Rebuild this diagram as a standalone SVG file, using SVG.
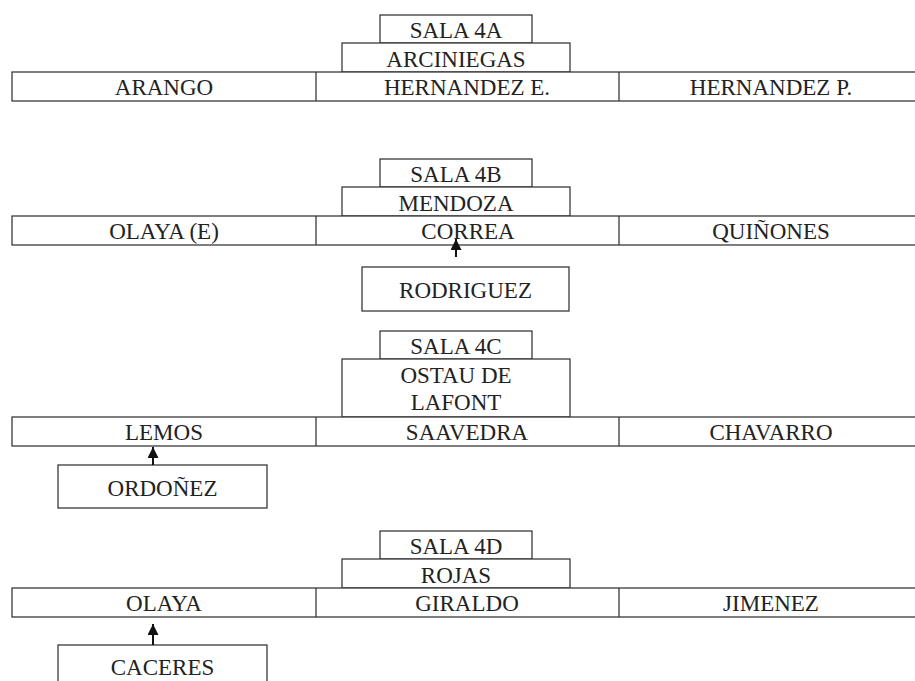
<svg xmlns="http://www.w3.org/2000/svg" width="915" height="681" viewBox="0 0 915 681">
<style>
.box{fill:#fff;stroke:#3a3a3a;stroke-width:1.3}
.bg{fill:#fff;stroke:none}
.div{stroke:#3a3a3a;stroke-width:1.3}
text{font-family:"Liberation Serif","Times New Roman","DejaVu Serif",serif;font-size:23px;fill:#222;text-anchor:middle}
.c line{stroke:#111;stroke-width:2}
</style>
<defs>
<marker id="ah" viewBox="0 0 10 10" refX="10" refY="5" markerWidth="5.5" markerHeight="5.5" orient="auto" markerUnits="strokeWidth">
<path d="M0,0 L10,5 L0,10 z" fill="#111"/>
</marker>
</defs>
<rect class="bg" width="915" height="681"/>

<!-- Sala 4A -->
<g id="sala4a"><rect class="box" x="380" y="15" width="152" height="28"/><text x="456" y="38">SALA 4A</text></g>
<g id="arciniegas"><rect class="box" x="342" y="43" width="228" height="29"/><text x="456" y="67">ARCINIEGAS</text></g>
<g id="row4a"><rect class="box" x="12" y="72" width="913" height="29"/><line class="div" x1="316" y1="72" x2="316" y2="101"/><line class="div" x1="619" y1="72" x2="619" y2="101"/></g>
<g id="arango"><text x="164" y="95">ARANGO</text></g>
<g id="hernandez-e"><text x="467" y="95">HERNANDEZ E.</text></g>
<g id="hernandez-p"><text x="771" y="95">HERNANDEZ P.</text></g>

<!-- Sala 4B -->
<g id="sala4b"><rect class="box" x="380" y="159" width="152" height="28"/><text x="456" y="182">SALA 4B</text></g>
<g id="mendoza"><rect class="box" x="342" y="187" width="228" height="29"/><text x="456" y="211">MENDOZA</text></g>
<g id="row4b"><rect class="box" x="12" y="216" width="913" height="29"/><line class="div" x1="316" y1="216" x2="316" y2="245"/><line class="div" x1="619" y1="216" x2="619" y2="245"/></g>
<g id="olaya-e"><text x="164" y="239">OLAYA (E)</text></g>
<g id="correa"><text x="468" y="239">CORREA</text></g>
<g id="quinones"><text x="771" y="239">QUIÑONES</text></g>
<g id="rodriguez"><rect class="box" x="362" y="267" width="207" height="44"/><text x="465.5" y="298">RODRIGUEZ</text></g>

<!-- Sala 4C -->
<g id="sala4c"><rect class="box" x="380" y="331" width="152" height="28"/><text x="456" y="354">SALA 4C</text></g>
<g id="ostau"><rect class="box" x="342" y="359" width="228" height="58"/><text x="456" y="383">OSTAU DE</text><text x="456" y="410">LAFONT</text></g>
<g id="row4c"><rect class="box" x="12" y="417" width="913" height="29"/><line class="div" x1="316" y1="417" x2="316" y2="446"/><line class="div" x1="619" y1="417" x2="619" y2="446"/></g>
<g id="lemos"><text x="164" y="440">LEMOS</text></g>
<g id="saavedra"><text x="467" y="440">SAAVEDRA</text></g>
<g id="chavarro"><text x="771" y="440">CHAVARRO</text></g>
<g id="ordonez"><rect class="box" x="58" y="465" width="209" height="43"/><text x="162.5" y="496">ORDOÑEZ</text></g>

<!-- Sala 4D -->
<g id="sala4d"><rect class="box" x="380" y="531" width="152" height="28"/><text x="456" y="554">SALA 4D</text></g>
<g id="rojas"><rect class="box" x="342" y="559" width="228" height="29"/><text x="456" y="583">ROJAS</text></g>
<g id="row4d"><rect class="box" x="12" y="588" width="913" height="29"/><line class="div" x1="316" y1="588" x2="316" y2="617"/><line class="div" x1="619" y1="588" x2="619" y2="617"/></g>
<g id="olaya"><text x="164" y="611">OLAYA</text></g>
<g id="giraldo"><text x="467" y="611">GIRALDO</text></g>
<g id="jimenez"><text x="771" y="611">JIMENEZ</text></g>
<g id="caceres"><rect class="box" x="58" y="645" width="209" height="50"/><text x="162.5" y="675">CACERES</text></g>

<g id="connectors" class="c">
<line x1="456" y1="257" x2="456" y2="239" marker-end="url(#ah)"/>
<line x1="153" y1="465" x2="153" y2="447" marker-end="url(#ah)"/>
<line x1="153" y1="645" x2="153" y2="624" marker-end="url(#ah)"/>
</g>
</svg>
